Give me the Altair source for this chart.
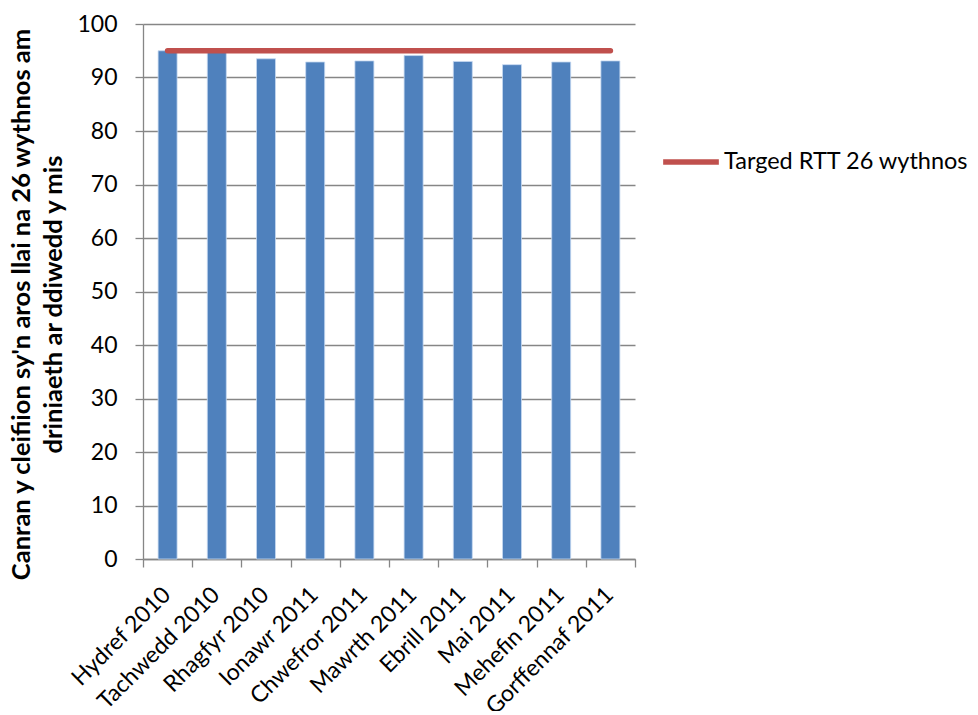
import altair as alt
import pandas as pd

months = ["Hydref 2010", "Tachwedd 2010", "Rhagfyr 2010", "Ionawr 2011", "Chwefror 2011",
          "Mawrth 2011", "Ebrill 2011", "Mai 2011", "Mehefin 2011", "Gorffennaf 2011"]
values = [95.0, 94.8, 93.5, 92.9, 93.1, 94.1, 93.0, 92.4, 92.9, 93.1]
target = [95] * 10
series_name = "Targed RTT 26 wythnos"
y_title = ["Canran y cleifiion sy'n aros llai na 26 wythnos am", "driniaeth ar ddiwedd y mis"]

df = pd.DataFrame({"month": months, "value": values, "target": target, "series": [series_name] * 10})

FONT = "Lato"
GRID = "#868686"

x_enc = alt.X("month:N", sort=months, title=None,
              scale=alt.Scale(paddingInner=0, paddingOuter=0),
              axis=alt.Axis(labelAngle=-45, labelFontSize=23, labelFont=FONT, labelColor="#000000",
                            tickBand="extent", ticks=True, tickSize=8, tickColor=GRID, tickWidth=1.3,
                            domainColor=GRID, domainWidth=1.3, labelPadding=16, labelOffset=-9,
                            labelLimit=0, grid=False))

bars = alt.Chart(df).mark_bar(size=19, color="#4F81BD", stroke="#C6D9F1", strokeWidth=0.8).encode(
    x=x_enc,
    y=alt.Y("value:Q", scale=alt.Scale(domain=[0, 100]), title=y_title,
            axis=alt.Axis(values=list(range(0, 101, 10)), labelFontSize=23, labelFont=FONT,
                          labelColor="#000000", tickSize=8, tickColor=GRID, tickWidth=1.3,
                          domainColor=GRID, domainWidth=1.3, gridColor=GRID, gridWidth=1.3,
                          labelPadding=18, titleFont=FONT, titleFontSize=25.5, titleFontWeight="bold",
                          titleColor="#000000", titleLineHeight=32, titlePadding=10, titleY=280)),
)

line = alt.Chart(df).mark_line(strokeWidth=5.5, strokeCap="round").encode(
    x=alt.X("month:N", sort=months),
    y=alt.Y("target:Q"),
    color=alt.Color("series:N", scale=alt.Scale(domain=[series_name], range=["#C0504D"]),
                    legend=alt.Legend(title=None, orient="none", legendX=517, legendY=107,
                                      symbolType="stroke", symbolStrokeWidth=5.5, symbolSize=3100,
                                      labelFont=FONT, labelFontSize=23.5, labelColor="#000000",
                                      labelOffset=2, labelLimit=0)),
)

chart = alt.layer(bars, line).properties(
    width=492, height=535,
    autosize=alt.AutoSizeParams(type="none"),
    padding={"left": 135, "top": 16, "right": 335, "bottom": 152},
).configure_view(stroke=None)

chart.save("out.html", embed_options={"renderer": "svg", "actions": False})
